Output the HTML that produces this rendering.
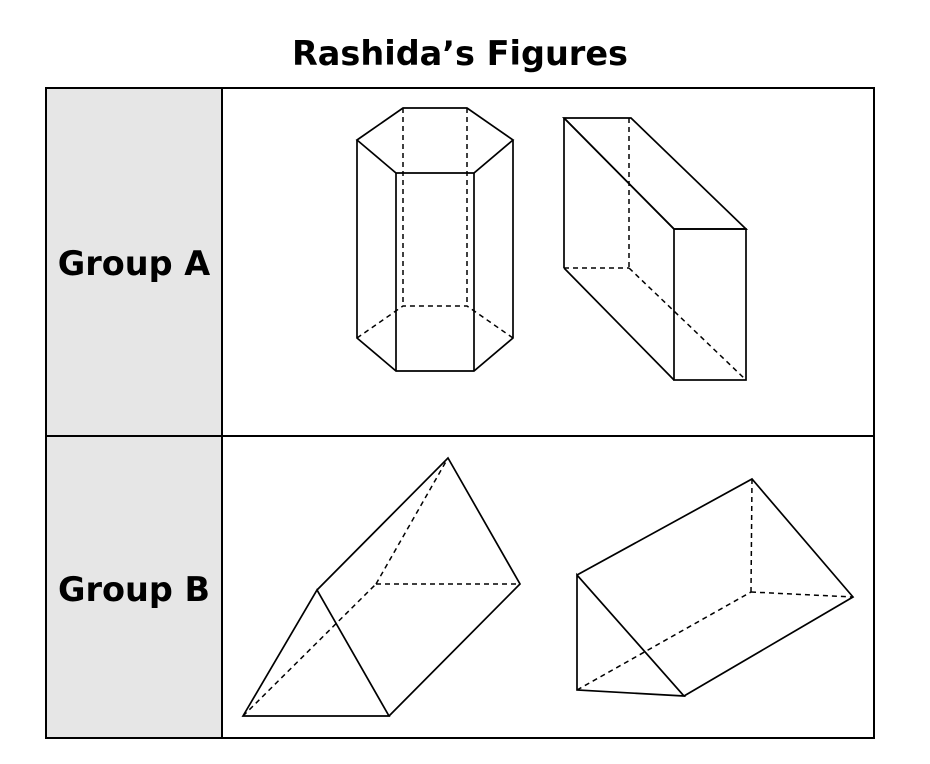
<!DOCTYPE html>
<html><head><style>
body{margin:0;background:#fff;}
svg{display:block;}
</style></head><body>
<svg width="930" height="764" xmlns="http://www.w3.org/2000/svg">
<text x="460" y="65" text-anchor="middle" font-family="DejaVu Sans, sans-serif" font-weight="bold" font-size="33.5">Rashida’s Figures</text>
<rect x="46" y="88" width="176" height="650" fill="#e6e6e6"/>
<rect x="46" y="88" width="828" height="650" fill="none" stroke="#000" stroke-width="2"/>
<line x1="222" y1="88" x2="222" y2="738" stroke="#000" stroke-width="2"/>
<line x1="46" y1="436" x2="874" y2="436" stroke="#000" stroke-width="2"/>
<text x="134" y="275" text-anchor="middle" font-family="DejaVu Sans, sans-serif" font-weight="bold" font-size="33.5">Group A</text>
<text x="134" y="601" text-anchor="middle" font-family="DejaVu Sans, sans-serif" font-weight="bold" font-size="33.5">Group B</text>
<g stroke="#000" stroke-width="1.7" fill="none">
<polygon points="357,140 403,108 467,108 513,140 474,173 396,173"/>
<polyline points="357,140 357,338 396,371 474,371 513,338 513,140"/>
<line x1="396" y1="173" x2="396" y2="371"/>
<line x1="474" y1="173" x2="474" y2="371"/>
<polygon points="564,118 631,118 746,229 674,229"/>
<line x1="564" y1="118" x2="674" y2="229"/>
<rect x="674" y="229" width="72" height="151"/>
<line x1="564" y1="118" x2="564" y2="268"/>
<line x1="564" y1="268" x2="674" y2="380"/>
<polygon points="243,716 389,716 317,590"/>
<polyline points="317,590 448,458 520,584 389,716"/>
<polygon points="577,575 577,690 684,696"/>
<polyline points="577,575 752,479 853,597 684,696"/>
</g>
<g stroke="#000" stroke-width="1.5" fill="none" stroke-dasharray="5,4">
<line x1="403" y1="108" x2="403" y2="306"/>
<line x1="467" y1="108" x2="467" y2="306"/>
<polyline points="357,338 403,306 467,306 513,338"/>
<line x1="629" y1="118" x2="629" y2="268"/>
<line x1="564" y1="268" x2="629" y2="268"/>
<line x1="629" y1="268" x2="746" y2="380"/>
<line x1="243" y1="716" x2="376" y2="584"/>
<line x1="376" y1="584" x2="520" y2="584"/>
<line x1="376" y1="584" x2="448" y2="458"/>
<line x1="752" y1="479" x2="751" y2="592"/>
<line x1="751" y1="592" x2="853" y2="597"/>
<line x1="577" y1="690" x2="751" y2="592"/>
</g>
</svg>
</body></html>
